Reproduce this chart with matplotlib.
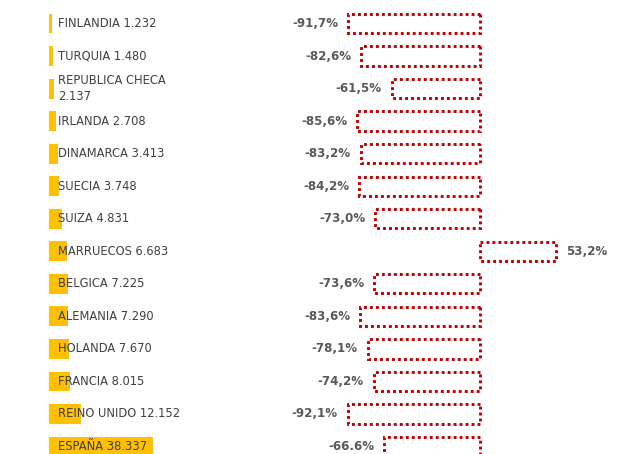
import matplotlib
matplotlib.use("Agg")
import matplotlib.pyplot as plt

countries = ["FINLANDIA", "TURQUIA", "REPUBLICA CHECA", "IRLANDA", "DINAMARCA", "SUECIA",
             "SUIZA", "MARRUECOS", "BELGICA", "ALEMANIA", "HOLANDA", "FRANCIA",
             "REINO UNIDO", "ESPAÑA"]
value_labels = ["1.232", "1.480", "2.137", "2.708", "3.413", "3.748", "4.831", "6.683",
                "7.225", "7.290", "7.670", "8.015", "12.152", "38.337"]
values = [1232, 1480, 2137, 2708, 3413, 3748, 4831, 6683, 7225, 7290, 7670, 8015, 12152, 38337]
changes = [-91.7, -82.6, -61.5, -85.6, -83.2, -84.2, -73.0, 53.2, -73.6, -83.6, -78.1,
           -74.2, -92.1, -66.6]
change_labels = ["-91,7%", "-82,6%", "-61,5%", "-85,6%", "-83,2%", "-84,2%", "-73,0%", "53,2%",
                 "-73,6%", "-83,6%", "-78,1%", "-74,2%", "-92,1%", "-66.6%"]

W, H = 621, 454
fig = plt.figure(figsize=(W / 100, H / 100), dpi=100)

row0, pitch = 23.5, 32.54
ylim = ((H - row0) / pitch, -row0 / pitch)

# left axes (yellow bars)
lx0, lx1 = 48.5, 275
axL = fig.add_axes([lx0 / W, 0, (lx1 - lx0) / W, 1])
scale = 0.002713  # px per unit
axL.set_xlim(0, (lx1 - lx0) / scale)
axL.set_ylim(*ylim)
axL.axis("off")
ypos = list(range(len(countries)))
axL.barh(ypos, values, height=0.61, color="#FFC000", zorder=1)
for i, (c, v) in enumerate(zip(countries, value_labels)):
    txt = f"{c}\n{v}" if c == "REPUBLICA CHECA" else f"{c} {v}"
    axL.annotate(txt, xy=(0, i), xytext=(9.5 * 0.72, 0), textcoords="offset points",
                 ha="left", va="center", fontsize=8.3, color="#404040",
                 family="DejaVu Sans", linespacing=1.35, zorder=3)

# right axes (red dotted bars)
rx0, rx1, zero_px, pscale = 280, 621, 480, 1.435
axR = fig.add_axes([rx0 / W, 0, (rx1 - rx0) / W, 1])
axR.set_xlim((rx0 - zero_px) / pscale, (rx1 - zero_px) / pscale)
axR.set_ylim(*ylim)
axR.axis("off")
axR.barh(ypos, changes, height=0.593, fill=False, edgecolor="#C00000",
         linewidth=2.1, linestyle=(0, (1, 1.05)))
for i, (c, lab) in enumerate(zip(changes, change_labels)):
    off = 10 * 0.72
    if c < 0:
        axR.annotate(lab, xy=(c, i), xytext=(-off, 0), textcoords="offset points",
                     ha="right", va="center", fontsize=8.6, fontweight="bold", color="#595959")
    else:
        axR.annotate(lab, xy=(c, i), xytext=(off, 0), textcoords="offset points",
                     ha="left", va="center", fontsize=8.6, fontweight="bold", color="#595959")

fig.savefig("out.png", dpi=100)
